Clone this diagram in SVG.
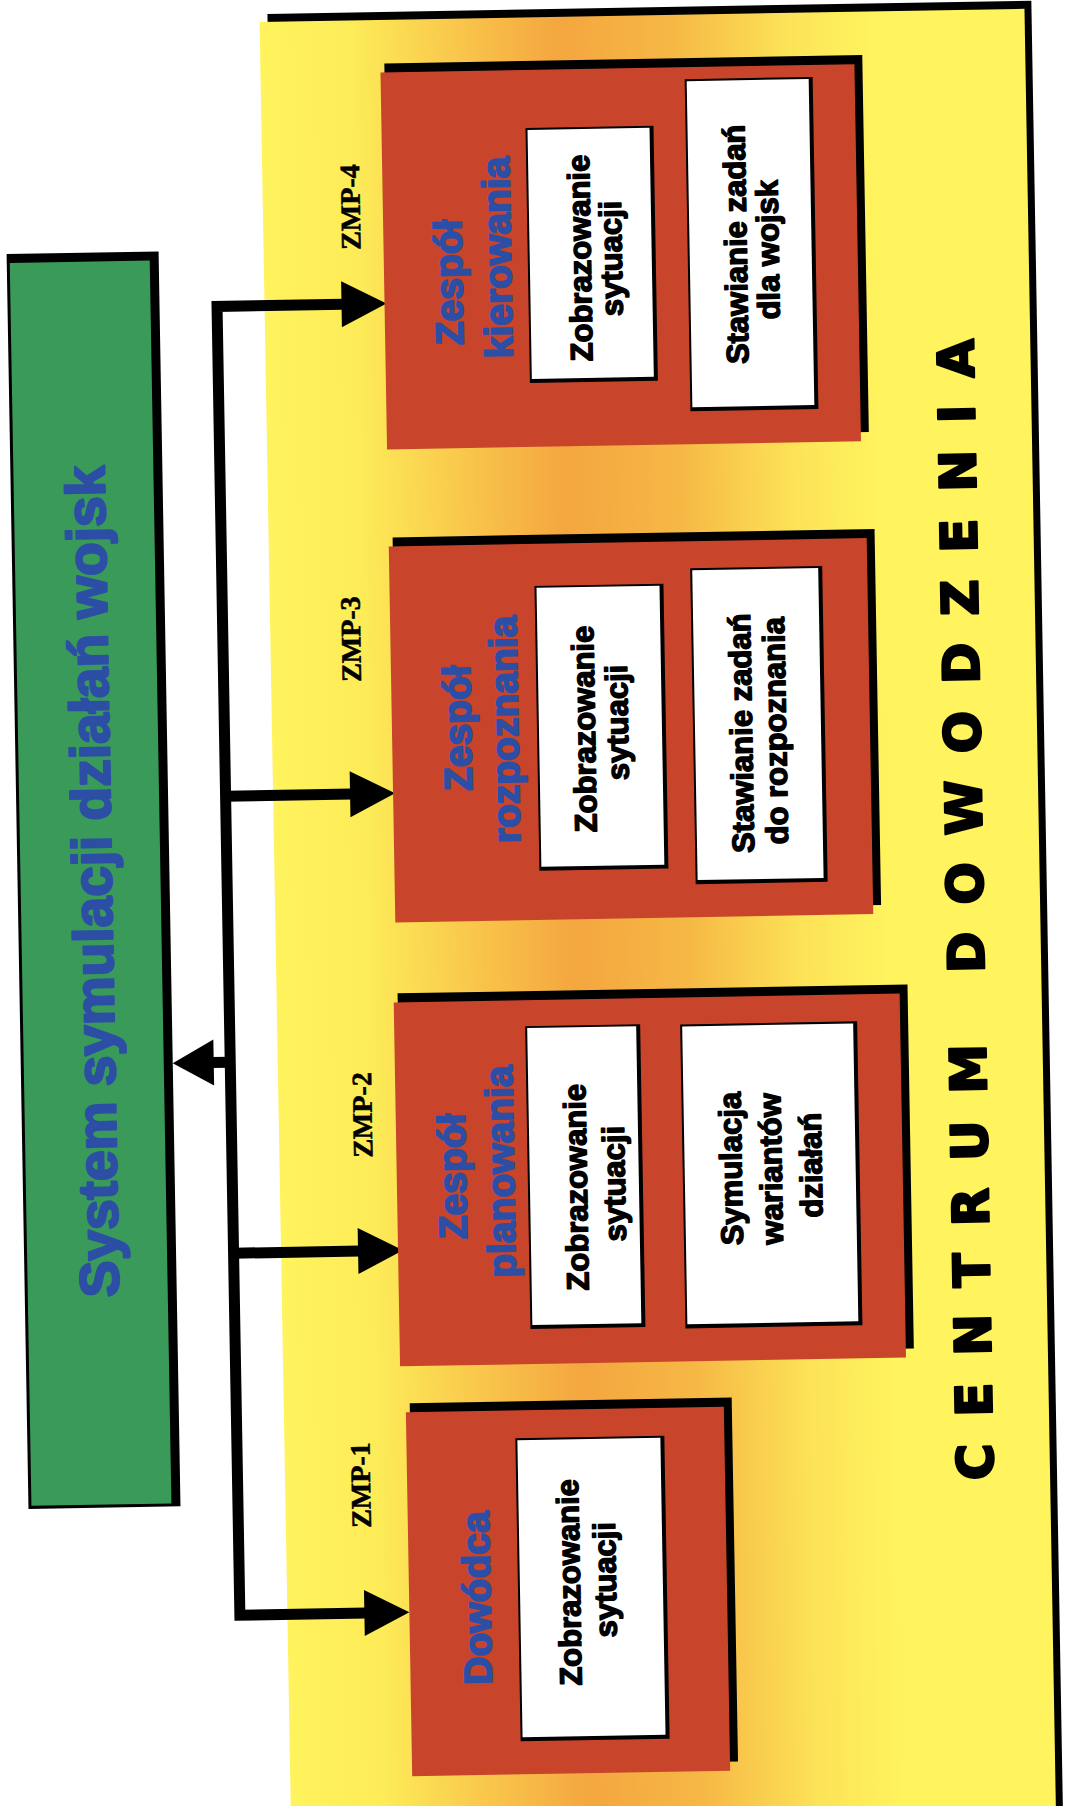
<svg xmlns="http://www.w3.org/2000/svg" width="1065" height="1806" viewBox="0 0 1065 1806">
<defs>
<linearGradient id="panelFill" gradientUnits="userSpaceOnUse" x1="275" y1="0" x2="1040" y2="0">
 <stop offset="0" stop-color="#fff35e"/>
 <stop offset="0.12" stop-color="#fdec58"/>
 <stop offset="0.26" stop-color="#f9c64b"/>
 <stop offset="0.39" stop-color="#f4a63f"/>
 <stop offset="0.54" stop-color="#f6b845"/>
 <stop offset="0.69" stop-color="#fce357"/>
 <stop offset="0.80" stop-color="#fff35e"/>
 <stop offset="1" stop-color="#fff35e"/>
</linearGradient>
<style>
.edge{fill:#000}
.team{fill:#c8452b}
.card{fill:#fff}
.sim{fill:#3a9a5a}
.title{font-family:"Liberation Sans",Arial,sans-serif;font-weight:700;font-size:39px;fill:#2c4fa5;stroke:#2c4fa5;stroke-width:1.9px;stroke-linejoin:round;text-anchor:middle}
.task{font-family:"Liberation Sans",Arial,sans-serif;font-weight:700;font-size:31px;fill:#000;stroke:#000;stroke-width:1.4px;stroke-linejoin:round;text-anchor:middle}
.zmp{font-family:"Liberation Serif","Times New Roman",serif;font-weight:700;font-size:28px;fill:#000;stroke:#000;stroke-width:0.6px;text-anchor:middle}
.big{font-family:"Liberation Sans",Arial,sans-serif;font-weight:700;font-size:55px;fill:#2c4fa5;stroke:#2c4fa5;stroke-width:2.4px;stroke-linejoin:round;text-anchor:middle}
.centre{font-family:"DejaVu Sans","Liberation Sans",sans-serif;font-weight:700;font-size:50px;fill:#000;stroke:#000;stroke-width:2.4px;stroke-linejoin:round;letter-spacing:26.8px}
.wire{fill:none;stroke:#000;stroke-width:11;stroke-linejoin:miter}
.head{fill:#000}
</style>
</defs>
<rect width="1065" height="1806" fill="#fff"/>
<!-- whole sheet sits slightly skewed on the page -->
<g transform="rotate(-1 532 903)">
  <g id="centrum-dowodzenia">
    <rect class="edge" x="283" y="9.5" width="764" height="1860"/>
    <rect fill="url(#panelFill)" x="275" y="17.5" width="765" height="1860"/>
    <text class="centre" transform="translate(983 1488) rotate(-90)">CENTRUM DOWODZENIA</text>
  </g>

  <g id="system-symulacji">
    <rect class="edge" x="18" y="245" width="152" height="1255"/>
    <rect class="sim" x="21" y="254" width="140" height="1243"/>
    <text class="big" transform="translate(112 874) rotate(-90)">System symulacji działań wojsk</text>
  </g>

  <g id="connectors">
    <path class="wire" d="M354 301 H227.5 V1610 H354"/>
    <path class="wire" d="M227.5 791 H354 M227.5 1248 H354 M227.5 1057 H209"/>
    <polygon class="head" points="352,278 397,301 352,324"/>
    <polygon class="head" points="352,768 397,791 352,814"/>
    <polygon class="head" points="352,1225 397,1248 352,1271"/>
    <polygon class="head" points="352,1587 397,1610 352,1633"/>
    <polygon class="head" points="211,1034 170,1057 211,1080"/>
  </g>

  <g id="zmp-4">
    <rect class="edge" x="399" y="61" width="478" height="377"/>
    <rect class="team" x="395" y="70" width="474" height="377"/>
    <rect class="edge" x="539" y="128" width="128" height="255"/>
    <rect class="card" x="541" y="130" width="122" height="249"/>
    <rect class="edge" x="699" y="82" width="128" height="332"/>
    <rect class="card" x="701" y="84" width="122" height="326"/>
    <text class="zmp" transform="translate(372 204) rotate(-90)">ZMP-4</text>
    <text class="title" transform="translate(473 281) rotate(-90)">Zespół</text>
    <text class="title" transform="translate(522 257) rotate(-90)">kierowania</text>
    <text class="task" transform="translate(602 259) rotate(-90)">Zobrazowanie</text>
    <text class="task" transform="translate(633 260) rotate(-90)">sytuacji</text>
    <text class="task" transform="translate(758 248) rotate(-90)">Stawianie zadań</text>
    <text class="task" transform="translate(790 254) rotate(-90)">dla wojsk</text>
  </g>

  <g id="zmp-3">
    <rect class="edge" x="399" y="535" width="482" height="376"/>
    <rect class="team" x="395" y="544" width="478" height="376"/>
    <rect class="edge" x="540" y="586" width="129" height="285"/>
    <rect class="card" x="542" y="588" width="123" height="279"/>
    <rect class="edge" x="696" y="571" width="132" height="316"/>
    <rect class="card" x="698" y="573" width="126" height="310"/>
    <text class="zmp" transform="translate(365 636) rotate(-90)">ZMP-3</text>
    <text class="title" transform="translate(474 727) rotate(-90)">Zespół</text>
    <text class="title" transform="translate(521 729) rotate(-90)">rozpoznania</text>
    <text class="task" transform="translate(598 730) rotate(-90)">Zobrazowanie</text>
    <text class="task" transform="translate(631 724) rotate(-90)">sytuacji</text>
    <text class="task" transform="translate(755 737) rotate(-90)">Stawianie zadań</text>
    <text class="task" transform="translate(789 735) rotate(-90)">do rozpoznania</text>
  </g>

  <g id="zmp-2">
    <rect class="edge" x="396" y="991" width="510" height="364"/>
    <rect class="team" x="392" y="1000" width="506" height="364"/>
    <rect class="edge" x="523" y="1026" width="115" height="303"/>
    <rect class="card" x="525" y="1028" width="109" height="297"/>
    <rect class="edge" x="678" y="1027" width="177" height="304"/>
    <rect class="card" x="680" y="1029" width="171" height="298"/>
    <text class="zmp" transform="translate(368 1112) rotate(-90)">ZMP-2</text>
    <text class="title" transform="translate(461 1175) rotate(-90)">Zespół</text>
    <text class="title" transform="translate(509 1171) rotate(-90)">planowania</text>
    <text class="task" transform="translate(582 1188) rotate(-90)">Zobrazowanie</text>
    <text class="task" transform="translate(620 1185) rotate(-90)">sytuacji</text>
    <text class="task" transform="translate(737 1172) rotate(-90)">Symulacja</text>
    <text class="task" transform="translate(777 1173) rotate(-90)">wariantów</text>
    <text class="task" transform="translate(817 1170) rotate(-90)">działań</text>
  </g>

  <g id="zmp-1">
    <rect class="edge" x="401" y="1401" width="322" height="364"/>
    <rect class="team" x="397" y="1410" width="318" height="364"/>
    <rect class="edge" x="506" y="1438" width="149" height="303"/>
    <rect class="card" x="508" y="1440" width="143" height="297"/>
    <text class="zmp" transform="translate(360 1482) rotate(-90)">ZMP-1</text>
    <text class="title" transform="translate(478 1597) rotate(-90)">Dowódca</text>
    <text class="task" transform="translate(568 1583) rotate(-90)">Zobrazowanie</text>
    <text class="task" transform="translate(604 1581) rotate(-90)">sytuacji</text>
  </g>
</g>
</svg>
